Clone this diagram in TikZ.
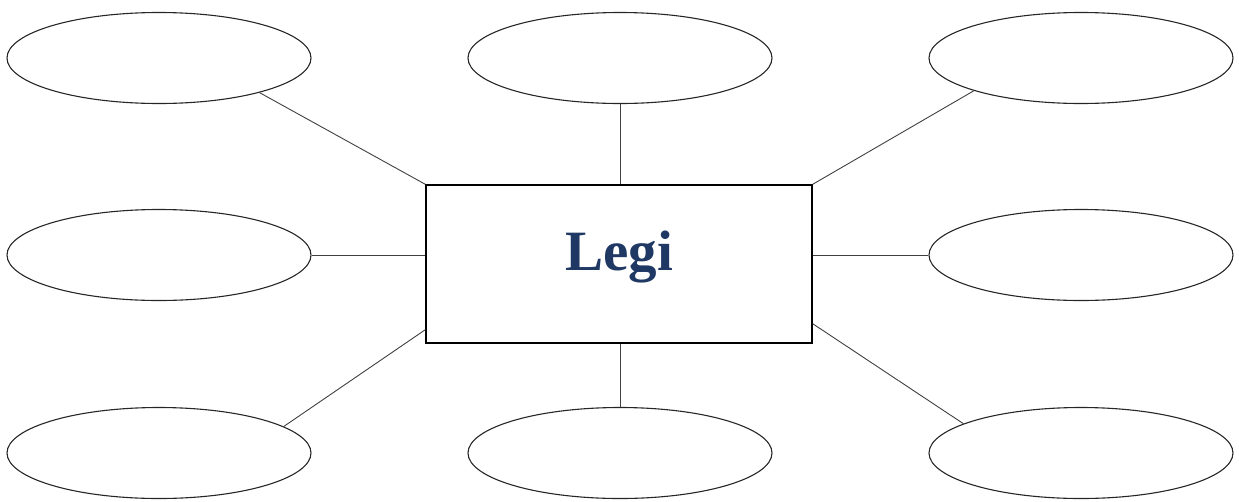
\documentclass[tikz,border=0pt]{standalone}
\usepackage{fontspec}
\setmainfont{Liberation Serif}
\usetikzlibrary{shapes.geometric}
\definecolor{navy}{RGB}{31,56,100}
\begin{document}
\begin{tikzpicture}[x=1pt,y=-1pt,
  bubble/.style={draw=black!85,line width=1.1pt,ellipse,minimum width=304pt,minimum height=91pt,inner sep=0pt},
  centerbox/.style={draw=black,line width=1.4pt,minimum width=386pt,minimum height=158pt,inner sep=0pt},
  link/.style={draw=black!75,line width=0.9pt}]
\useasboundingbox (0,0) rectangle (1239,501);
\node[centerbox] (c) at (619,264) {};
\node[anchor=base,text=navy,font=\bfseries\fontsize{57}{60}\selectfont] (t) at (619,270) {Legi};
\node[bubble] (tl) at (159,58) {};
\node[bubble] (tm) at (620,58) {};
\node[bubble] (tr) at (1081,58) {};
\node[bubble] (ml) at (159,255) {};
\node[bubble] (mr) at (1081,255) {};
\node[bubble] (bl) at (159,453) {};
\node[bubble] (bm) at (620,453) {};
\node[bubble] (br) at (1081,453) {};
\draw[link] (tl.-19) -- (c.north west);
\draw[link] (tm.south) -- (tm.south |- c.north);
\draw[link] (tr.197) -- (c.north east);
\draw[link] (ml.east) -- (ml.east -| c.west);
\draw[link] (mr.west -| c.east) -- (mr.west);
\draw[link] (bl.12.5) -- ([yshift=14pt]c.south west);
\draw[link] (bm.north |- c.south) -- (bm.north);
\draw[link] ([yshift=20pt]c.south east) -- (br.166.6);
\end{tikzpicture}
\end{document}
